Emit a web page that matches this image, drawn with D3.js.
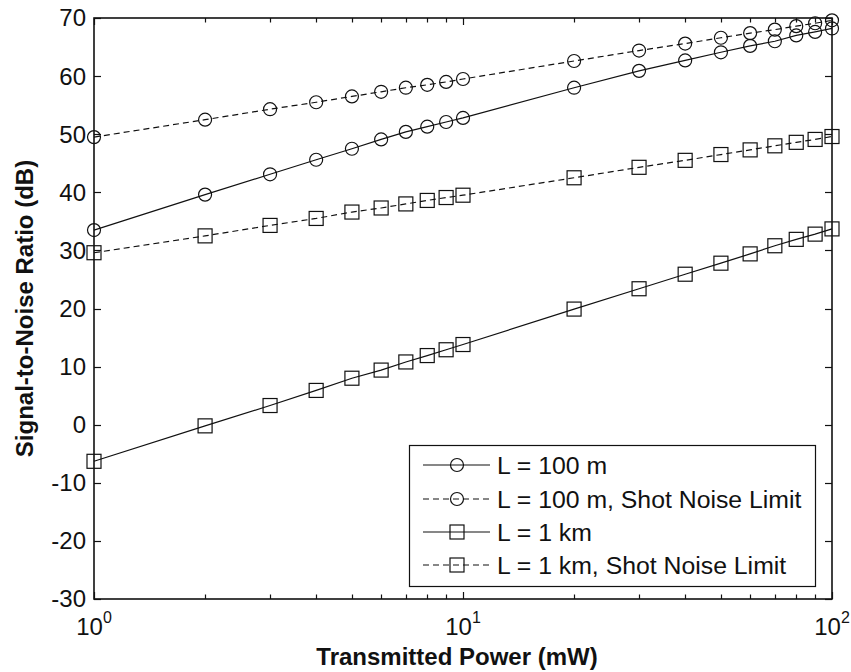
<!DOCTYPE html>
<html>
<head>
<meta charset="utf-8">
<script src="https://cdn.jsdelivr.net/npm/d3@7"></script>
<style>
  html, body { margin: 0; padding: 0; background: #fff; }
  svg { display: block; }
  text { font-family: "Liberation Sans", Arial, Helvetica, sans-serif; fill: #111; }
</style>
</head>
<body>
<div id="chart"></div>
<script>
// ---- data ----
const power = [1, 2, 3, 4, 5, 6, 7, 8, 9, 10, 20, 30, 40, 50, 60, 70, 80, 90, 100];
const snr100m     = [33.5, 39.6, 43.1, 45.6, 47.5, 49.1, 50.4, 51.3, 52.1, 52.8, 58.0, 60.9, 62.7, 64.1, 65.2, 66.0, 67.0, 67.6, 68.2];
const snr100mShot = [49.5, 52.5, 54.3, 55.5, 56.5, 57.3, 58.0, 58.5, 59.0, 59.5, 62.6, 64.4, 65.6, 66.6, 67.4, 68.0, 68.6, 69.1, 69.6];
const snr1km      = [-6.3, -0.2, 3.3, 5.9, 8.0, 9.4, 10.8, 11.9, 12.9, 13.8, 19.9, 23.4, 25.9, 27.8, 29.4, 30.8, 31.9, 32.8, 33.7];
const snr1kmShot  = [29.6, 32.5, 34.3, 35.5, 36.6, 37.3, 38.0, 38.6, 39.1, 39.5, 42.5, 44.3, 45.5, 46.5, 47.3, 48.0, 48.6, 49.1, 49.6];
const seriesNames = ["L = 100 m", "L = 100 m, Shot Noise Limit", "L = 1 km", "L = 1 km, Shot Noise Limit"];
const seriesMarker = ["circle", "circle", "square", "square"];
const seriesDashed = [false, true, false, true];
const yTicks = [-30, -20, -10, 0, 10, 20, 30, 40, 50, 60, 70];
const xMajorTicks = [1, 10, 100];
const xMajorExp = ["0", "1", "2"];
const xMinorTicks = [2, 3, 4, 5, 6, 7, 8, 9, 20, 30, 40, 50, 60, 70, 80, 90];
const xLabel = "Transmitted Power (mW)";
const yLabel = "Signal-to-Noise Ratio (dB)";

const seriesValues = [snr100m, snr100mShot, snr1km, snr1kmShot];

// ---- layout ----
const W = 851, H = 672;
const pL = 94, pR = 832, pT = 18, pB = 599;

const svg = d3.select("#chart").append("svg").attr("width", W).attr("height", H);
svg.append("rect").attr("width", W).attr("height", H).attr("fill", "#fff");

const x = d3.scaleLog().domain([1, 100]).range([pL, pR]);
const y = d3.scaleLinear().domain([-30, 70]).range([pB, pT]);

const ink = "#111";

// plot box
svg.append("rect").attr("x", pL).attr("y", pT).attr("width", pR - pL).attr("height", pB - pT)
  .attr("fill", "#fff").attr("stroke", ink).attr("stroke-width", 1.6);

// y ticks (left & right, inward)
const majLen = 7, minLen = 4.5;
yTicks.forEach(v => {
  const yy = Math.round(y(v)) + 0.5;
  svg.append("line").attr("x1", pL).attr("x2", pL + majLen).attr("y1", yy).attr("y2", yy).attr("stroke", ink).attr("stroke-width", 1.2);
  svg.append("line").attr("x1", pR).attr("x2", pR - majLen).attr("y1", yy).attr("y2", yy).attr("stroke", ink).attr("stroke-width", 1.2);
  svg.append("text").attr("x", 86).attr("y", y(v)).attr("dy", "0.35em").attr("text-anchor", "end")
    .attr("font-size", 24).text(v);
});

// x ticks (bottom & top, inward)
xMajorTicks.forEach((v, i) => {
  const xx = Math.round(x(v)) + 0.5;
  svg.append("line").attr("x1", xx).attr("x2", xx).attr("y1", pB).attr("y2", pB - majLen).attr("stroke", ink).attr("stroke-width", 1.2);
  svg.append("line").attr("x1", xx).attr("x2", xx).attr("y1", pT).attr("y2", pT + majLen).attr("stroke", ink).attr("stroke-width", 1.2);
  const t = svg.append("text").attr("x", x(v)).attr("y", 635).attr("text-anchor", "middle").attr("font-size", 24);
  t.append("tspan").text("10");
  t.append("tspan").attr("font-size", 16).attr("dy", -12).text(xMajorExp[i]);
});
xMinorTicks.forEach(v => {
  const xx = Math.round(x(v)) + 0.5;
  svg.append("line").attr("x1", xx).attr("x2", xx).attr("y1", pB).attr("y2", pB - minLen).attr("stroke", ink).attr("stroke-width", 1.2);
  svg.append("line").attr("x1", xx).attr("x2", xx).attr("y1", pT).attr("y2", pT + minLen).attr("stroke", ink).attr("stroke-width", 1.2);
});

// axis labels
svg.append("text").attr("x", (pL + pR) / 2 - 6).attr("y", 665).attr("text-anchor", "middle")
  .attr("font-size", 24).attr("font-weight", "bold").text(xLabel);
svg.append("text").attr("transform", `translate(33,${(pT + pB) / 2}) rotate(-90)`).attr("text-anchor", "middle")
  .attr("font-size", 24).attr("font-weight", "bold").text(yLabel);

// series
const line = d3.line().x(d => x(d[0])).y(d => y(d[1]));
const R = 6.5, S = 14;
function drawMarker(g, type, cx, cy) {
  if (type === "circle") {
    g.append("circle").attr("cx", cx).attr("cy", cy).attr("r", R)
      .attr("fill", "none").attr("stroke", ink).attr("stroke-width", 1.2);
  } else {
    g.append("rect").attr("x", cx - S / 2).attr("y", cy - S / 2).attr("width", S).attr("height", S)
      .attr("fill", "none").attr("stroke", ink).attr("stroke-width", 1.2);
  }
}
seriesValues.forEach((vals, si) => {
  const pts = power.map((p, i) => [p, vals[i]]);
  const g = svg.append("g");
  g.append("path").attr("d", line(pts)).attr("fill", "none").attr("stroke", ink).attr("stroke-width", 1.2)
    .attr("stroke-dasharray", seriesDashed[si] ? "6,4" : null);
  pts.forEach(d => drawMarker(g, seriesMarker[si], x(d[0]), y(d[1])));
});

// legend
const lg = svg.append("g");
lg.append("rect").attr("x", 409.5).attr("y", 445.5).attr("width", 406).attr("height", 141)
  .attr("fill", "#fff").attr("stroke", ink).attr("stroke-width", 1.2);
const rowY = [465, 499, 532, 565];
seriesNames.forEach((name, si) => {
  const ry = rowY[si];
  lg.append("line").attr("x1", 423).attr("x2", 490).attr("y1", ry).attr("y2", ry)
    .attr("stroke", ink).attr("stroke-width", 1.2).attr("stroke-dasharray", seriesDashed[si] ? "6,4" : null);
  drawMarker(lg, seriesMarker[si], 457, ry);
  lg.append("text").attr("x", 497).attr("y", ry).attr("dy", "0.36em").attr("font-size", 24.8).text(name);
});
</script>
</body>
</html>
